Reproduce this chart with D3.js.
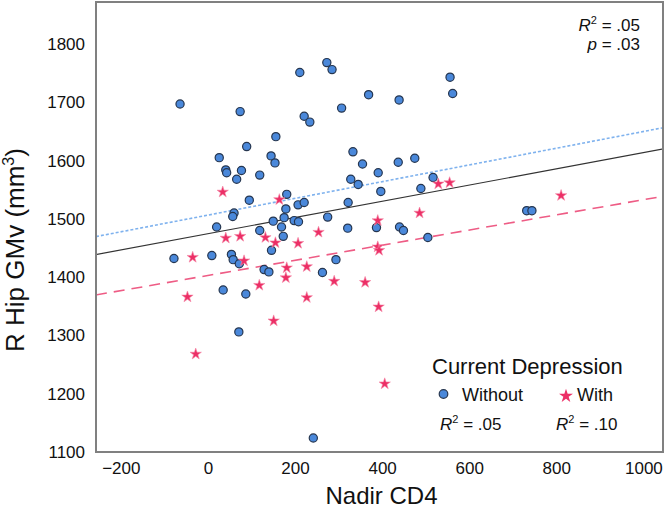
<!DOCTYPE html>
<html><head><meta charset="utf-8">
<script src="https://cdn.jsdelivr.net/npm/d3@7"></script>
<style>
html,body{margin:0;padding:0;background:#fff;}
text{font-family:"Liberation Sans",Arial,Helvetica,sans-serif;}
</style></head>
<body><svg id="chart" width="664" height="508"></svg>
<script>
// Data (Nadir CD4, R Hip GMv)
const withoutX = [-64,74,156,89,26,145,154,41,43,77,66,119,273,211,285,556,562,369,439,307,221,234,333,355,437,475,391,328,517,345,397,489,181,95,60,57,179,150,175,20,119,169,173,146,-78,9,54,58,72,129,140,35,87,71,207,221,322,198,208,275,321,387,440,449,505,294,263,242,732,744];
const withoutY = [1697,1684,1641,1624,1605,1608,1596,1584,1579,1583,1568,1575,1768,1751,1756,1743,1715,1713,1704,1690,1676,1666,1615,1594,1597,1604,1579,1568,1571,1559,1547,1552,1542,1532,1510,1504,1517,1496,1502,1486,1480,1486,1470,1446,1432,1437,1439,1430,1423,1413,1409,1378,1371,1306,1524,1528,1528,1497,1495,1503,1484,1485,1486,1480,1468,1430,1408,1124,1514,1514];
const withX = [34,164,41,74,132,155,-35,83,181,179,118,-47,151,529,555,486,390,254,207,390,393,227,290,361,227,392,-28,406,811];
const withY = [1546,1533,1467,1470,1468,1459,1434,1428,1416,1399,1386,1366,1325,1560,1562,1510,1497,1477,1458,1452,1446,1418,1393,1391,1365,1349,1268,1217,1540];
// Fit lines: [intercept, slope]
const fitAll = [1474.5, 0.139];
const fitWithout = [1506.4, 0.1434];
const fitWith = [1402.8, 0.130];
const xTicks = [-200,0,200,400,600,800,1000];
const yTicks = [1100,1200,1300,1400,1500,1600,1700,1800];

const svg = d3.select("#chart");
const L=96, R=663, T=2, B=452;
const x = d3.scaleLinear().domain([-257,1045]).range([L,R]);
const y = d3.scaleLinear().domain([1100,1872]).range([B,T]);

// tick labels
const xAxis = d3.axisBottom(x).tickValues(xTicks).tickSize(0).tickPadding(10).tickFormat(d3.format("d"));
const gx = svg.append("g").attr("transform",`translate(0,${B})`).call(xAxis);
gx.select(".domain").remove();
gx.selectAll("text").attr("font-size",17).attr("fill","#111").attr("font-family","Liberation Sans, Arial, sans-serif");
const yAxis = d3.axisLeft(y).tickValues(yTicks).tickSize(0).tickPadding(11).tickFormat(d3.format("d"));
const gy = svg.append("g").attr("transform",`translate(${L},0)`).call(yAxis);
gy.select(".domain").remove();
gy.selectAll("text").attr("font-size",17).attr("fill","#111").attr("font-family","Liberation Sans, Arial, sans-serif");

// frame
svg.append("rect").attr("x",L).attr("y",T).attr("width",R-L).attr("height",B-T)
  .attr("fill","none").attr("stroke","#808080").attr("stroke-width",2);

svg.append("defs").append("clipPath").attr("id","pc").append("rect")
  .attr("x",L+1).attr("y",T+1).attr("width",R-L-2).attr("height",B-T-2);
const plot = svg.append("g").attr("clip-path","url(#pc)");

function fitLine(f){ const d=x.domain(); return [[d[0],f[0]+f[1]*d[0]],[d[1],f[0]+f[1]*d[1]]]; }
const line = d3.line().x(d=>x(d[0])).y(d=>y(d[1]));
plot.append("path").attr("d",line(fitLine(fitWith))).attr("fill","none")
  .attr("stroke","#ee5c85").attr("stroke-width",1.6).attr("stroke-dasharray","11,7");
plot.append("path").attr("d",line(fitLine(fitWithout))).attr("fill","none")
  .attr("stroke","#7fb2ee").attr("stroke-width",1.6).attr("stroke-dasharray","3,2");
plot.append("path").attr("d",line(fitLine(fitAll))).attr("fill","none")
  .attr("stroke","#333").attr("stroke-width",1.2);

const withoutData = withoutX.map((v,i)=>[v,withoutY[i]]);
const withData = withX.map((v,i)=>[v,withY[i]]);
const star = d3.symbol().type(d3.symbolStar).size(40);

plot.selectAll("circle.wo").data(withoutData).enter().append("circle")
  .attr("cx",d=>x(d[0])).attr("cy",d=>y(d[1])).attr("r",4.1)
  .attr("fill","#4a88da").attr("stroke","#26364f").attr("stroke-width",1.2);
plot.selectAll("path.wi").data(withData).enter().append("path")
  .attr("d",star).attr("transform",d=>`translate(${x(d[0])},${y(d[1])})`)
  .attr("fill","#ec2f66").attr("stroke","#f58aa8").attr("stroke-width",0.6);

// axis titles
svg.append("text").attr("x",(L+R)/2+2).attr("y",504).attr("text-anchor","middle")
  .attr("font-size",24).attr("fill","#111").text("Nadir CD4");
const yl = svg.append("text").attr("transform","translate(24,250) rotate(-90)").attr("text-anchor","middle")
  .attr("font-size",26).attr("fill","#111");
yl.append("tspan").text("R Hip GMv (mm");
yl.append("tspan").attr("font-size",16).attr("dy",-10).text("3");
yl.append("tspan").attr("dy",10).text(")");

// stats top right
const s1 = svg.append("text").attr("x",640).attr("y",31).attr("text-anchor","end").attr("font-size",17).attr("fill","#111");
s1.append("tspan").attr("font-style","italic").text("R");
s1.append("tspan").attr("font-size",11).attr("dy",-7).text("2");
s1.append("tspan").attr("dy",7).text(" = .05");
const s2 = svg.append("text").attr("x",640).attr("y",50).attr("text-anchor","end").attr("font-size",17).attr("fill","#111");
s2.append("tspan").attr("font-style","italic").text("p");
s2.append("tspan").text(" = .03");

// legend
svg.append("text").attr("x",432).attr("y",374).attr("font-size",22).attr("fill","#111").text("Current Depression");
svg.append("circle").attr("cx",443.5).attr("cy",394).attr("r",4.3).attr("fill","#4a88da").attr("stroke","#26364f").attr("stroke-width",1.2);
svg.append("text").attr("x",462).attr("y",401).attr("font-size",18).attr("fill","#111").text("Without");
svg.append("path").attr("d",d3.symbol().type(d3.symbolStar).size(60)).attr("transform","translate(566,396)").attr("fill","#ec2f66");
svg.append("text").attr("x",577).attr("y",401).attr("font-size",18).attr("fill","#111").text("With");
function r2(xp,val){
  const t = svg.append("text").attr("x",xp).attr("y",430).attr("font-size",17).attr("fill","#111");
  t.append("tspan").attr("font-style","italic").text("R");
  t.append("tspan").attr("font-size",11).attr("dy",-7).text("2");
  t.append("tspan").attr("dy",7).text(" = "+val);
}
r2(440,".05"); r2(556,".10");
</script></body></html>
